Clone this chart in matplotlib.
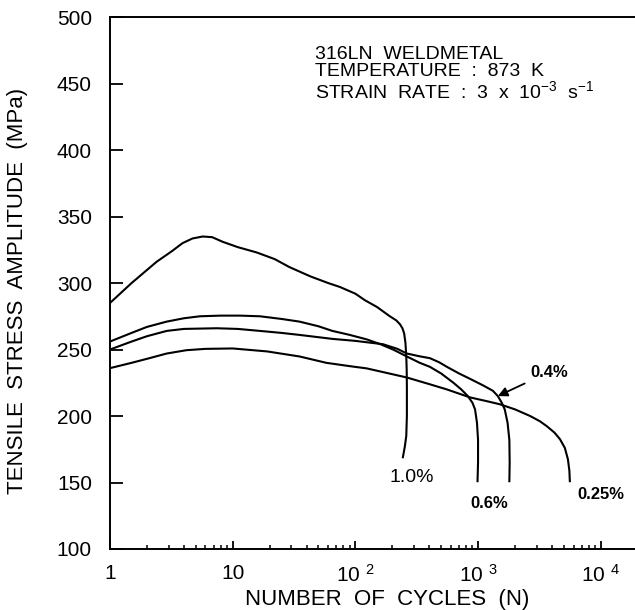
import matplotlib
matplotlib.use('Agg')
import matplotlib.pyplot as plt

plt.rcParams['font.family'] = ['Liberation Sans', 'DejaVu Sans']
plt.rcParams['mathtext.default'] = 'regular'

# cyclic stress response curves
n_10 = [1, 1.5, 2.4, 3.2, 3.9, 4.7, 5.7, 6.8, 8.3, 11, 15.7, 22, 29, 43, 60, 75, 100, 120, 150,
        191, 215, 231, 242, 250, 256, 260, 262, 263, 263, 260, 253, 244]
s_10 = [285, 300, 316, 324, 330, 333.5, 335, 334.5, 331, 327, 323, 318, 312, 305, 300, 297, 292, 287, 282,
        275, 272, 269, 266, 262, 255, 245, 235, 222, 200, 185, 177, 169]

n_06 = [1, 1.5, 2, 2.9, 4, 5.4, 8, 11.5, 16.7, 25, 35, 50, 65, 90, 124, 160, 203, 260, 335, 405,
        500, 630, 730, 825, 900, 945, 980, 1000, 1000, 990]
s_06 = [256, 262.5, 267, 271, 273.5, 275, 275.5, 275.5, 275, 273, 271, 267.5, 264, 261, 257.6, 254, 250, 245, 240, 237,
        232, 225, 220, 215, 210, 205, 195, 182, 165, 151]

n_04 = [1, 1.5, 2, 2.9, 4, 7.4, 11, 16.7, 25, 35, 65, 100, 168, 220, 263, 330, 405, 480, 557, 700,
        859, 1100, 1320, 1450, 1560, 1650, 1740, 1800, 1810, 1800]
s_04 = [250, 256, 260, 264, 265.5, 266, 265.5, 264, 262.5, 261, 258, 256.5, 254, 250.5, 247, 245, 243.5, 240.5, 237, 232,
        228, 223, 219, 215, 210, 205, 195, 182, 165, 151]

n_025 = [1, 1.5, 2, 2.9, 4.2, 6, 10, 19, 35, 58, 90, 124, 158, 262, 400, 557, 860, 1200, 1510,
         2000, 2660, 3200, 3640, 4200, 4660, 5100, 5400, 5550, 5600]
s_025 = [236, 240, 243, 247, 249.5, 250.5, 250.8, 248.6, 244.8, 240, 237.5, 235.8, 233.6, 229, 224, 220, 214, 211, 208.8,
         205, 200, 196, 192.3, 187.5, 182.5, 176, 167.5, 159, 151]

x_ticks = [1, 10, 100, 1000, 10000]
x_tick_labels = ['1', '10', '10 $^2$', '10 $^3$', '10 $^4$']
y_ticks = [100, 150, 200, 250, 300, 350, 400, 450, 500]

fig = plt.figure(figsize=(6.35, 6.1), dpi=100)
ax = fig.add_axes([0.1732, 0.1, 0.831, 0.872])

for n, s in [(n_10, s_10), (n_06, s_06), (n_04, s_04), (n_025, s_025)]:
    ax.plot(n, s, color='black', lw=1.5)

ax.set_xscale('log')
ax.set_xlim(1, 2e4)
ax.set_ylim(100, 500)
ax.set_xticks(x_ticks, x_tick_labels)
ax.set_yticks(y_ticks)
ax.tick_params(axis='both', which='major', direction='in', labelsize=15, width=1.3)
ax.tick_params(axis='y', length=9, pad=13)
ax.tick_params(axis='x', which='major', length=6, pad=11)
ax.tick_params(axis='x', which='minor', direction='in', length=3, width=1.1)
ax.spines['right'].set_visible(False)
for sp in ['left', 'top', 'bottom']:
    ax.spines[sp].set_linewidth(1.4)

ax.set_xlabel('NUMBER  OF  CYCLES  (N)', fontsize=16, labelpad=2)
ax.xaxis.set_label_coords(0.526, -0.075)
ax.set_ylabel('TENSILE  STRESS  AMPLITUDE  (MPa)', fontsize=16)
ax.yaxis.set_label_coords(-0.155, 0.485)

ax.text(0.389, 0.945, '316LN  WELDMETAL\nTEMPERATURE  :  873  K\nSTRAIN  RATE  :  3  x  10$^{-3}$  s$^{-1}$',
        transform=ax.transAxes, fontsize=14, va='top', ha='left', linespacing=1.0)

ax.text(191, 154, '1.0%', fontsize=14, va='center', ha='left')
ax.text(859, 134, '0.6%', fontsize=12, va='center', ha='left', fontweight='bold')
ax.text(6400, 141, '0.25%', fontsize=12, va='center', ha='left', fontweight='bold')
ax.annotate('0.4%', xy=(1450, 215), xytext=(2650, 233), fontsize=12, fontweight='bold',
            va='center', ha='left',
            arrowprops=dict(arrowstyle='-|>', color='black', lw=1.3, shrinkA=2, shrinkB=0,
                            mutation_scale=14))

fig.savefig('out.png', dpi=100)
